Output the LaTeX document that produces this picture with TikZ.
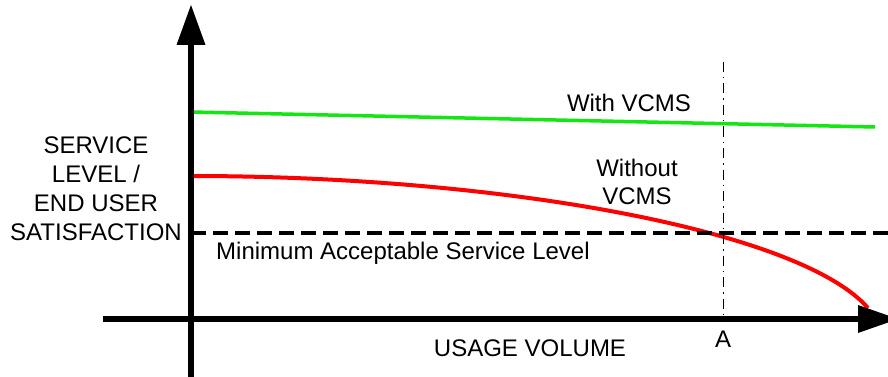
\documentclass[tikz,border=0pt]{standalone}
\usepackage{fontspec}
\setmainfont{Liberation Sans}
\begin{document}
\begin{tikzpicture}[x=1pt,y=-1pt,
  lbl/.style={font=\fontsize{24}{29}\selectfont, inner sep=0pt, align=center},
  axis/.style={line width=6pt},
  tipfill/.style={fill=black},
  withline/.style={line width=3.5pt, draw={rgb,255:red,20;green,230;blue,20}},
  withoutline/.style={line width=4pt, draw=red},
  minline/.style={line width=4.5pt, dash pattern=on 15pt off 7pt},
  markline/.style={line width=1pt, dash pattern=on 10pt off 5pt on 1.5pt off 5pt}]
\clip (0,0) rectangle (888,377);
\fill[white] (0,0) rectangle (888,377);

% key points
\coordinate (origin) at (191,319);
\coordinate (ybot) at (191,377);
\coordinate (ytop) at (191,44);
\coordinate (xleft) at (103,319);
\coordinate (xright) at (859,319);

% level curves
\draw[withline] (191,112) -- (875,127);
\draw[withoutline] (191,176) .. controls (500,176) and (800,230) .. (868,308);

% minimum acceptable level and usage mark A
\draw[minline] (191,233) -- (888,233);
\draw[markline] (723,62) -- (723,319);

% axes with triangular heads
\draw[axis] (ybot) -- (ytop);
\fill[tipfill] (176.5,45) -- (191,5) -- (205.5,45) -- cycle;
\draw[axis] (xleft) -- (xright);
\fill[tipfill] (858,305) -- (898,319) -- (858,333) -- cycle;

% labels
\node[lbl, anchor=north] (ylabel) at (96,137) {SERVICE\\LEVEL /\\END USER\\SATISFACTION};
\node[lbl, anchor=base] (withlbl) at (629,112) {With VCMS};
\node[lbl, anchor=north, font=\fontsize{24}{28}\selectfont] (withoutlbl) at (637,159.3) {Without\\VCMS};
\node[lbl, anchor=base west] (minlbl) at (216,259) {Minimum Acceptable Service Level};
\node[lbl, anchor=base] (xlabel) at (530,356) {USAGE VOLUME};
\node[lbl, anchor=base] (alabel) at (723,347) {A};
\end{tikzpicture}
\end{document}
